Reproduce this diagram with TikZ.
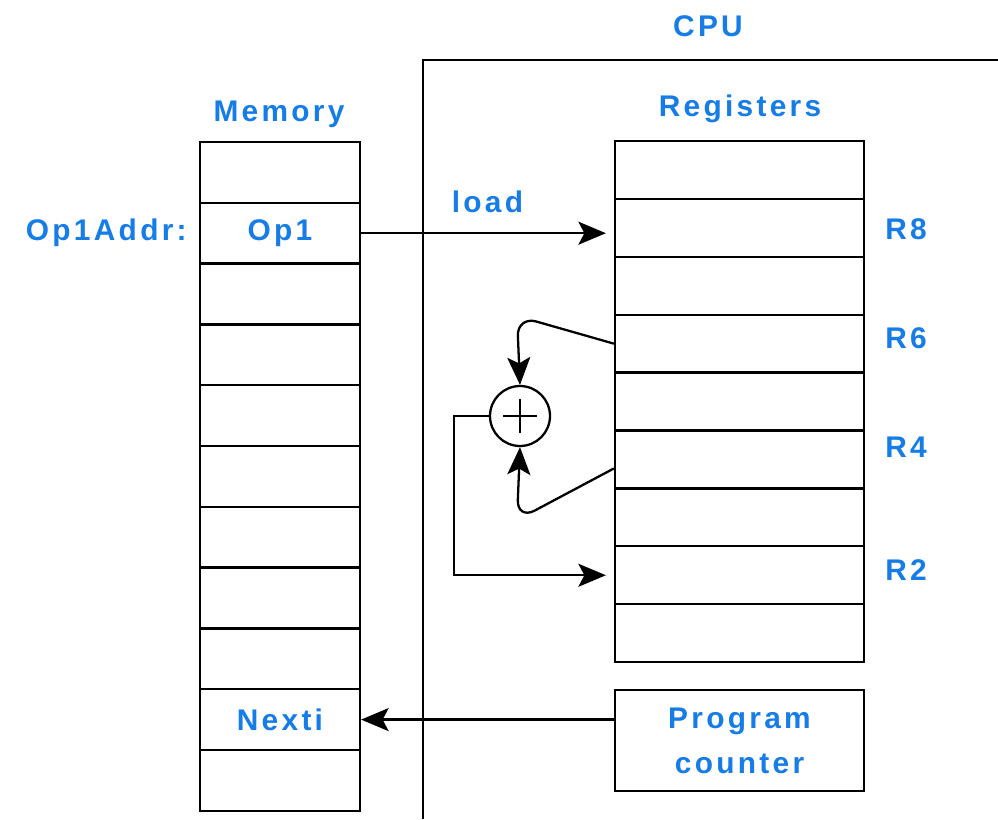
\documentclass[tikz,border=0pt]{standalone}
\usepackage{fontspec}
\newfontfamily\diagfont{Liberation Sans}[LetterSpace=11]
\usetikzlibrary{positioning,arrows.meta}
\definecolor{lblblue}{RGB}{22,124,232}
\tikzset{
  lbl/.style={text=lblblue,font=\diagfont\bfseries\fontsize{17}{25.5}\selectfont},
  memcell/.style={draw,line width=1.3pt,minimum width=3.2cm,minimum height=1.216cm,inner sep=0pt,lbl},
  regcell/.style={draw,line width=1.3pt,minimum width=4.98cm,minimum height=1.158cm,inner sep=0pt},
  arr/.style={line width=1.3pt,-{Stealth[length=5.5mm,width=4.6mm,inset=1.2mm]}}
}

\begin{document}
\begin{tikzpicture}[x=0.02cm,y=-0.02cm]
\useasboundingbox (0,0) rectangle (998,819);
% CPU outline, open to the right and below
\draw[line width=1.3pt] (998,60) -- (423,60) -- (423,819);
\node[lbl] (cpu) at (708,26) {CPU};

% memory column
\foreach \t [count=\i] in {{},Op1,{},{},{},{},{},{},{},Nexti,{}}
  \node[memcell] (m\i) at (280,{142+60.8*(\i-0.5)}) {\t};
\node[lbl] (memory) at (279,114) {Memory};
\node[lbl,left=0.12cm of m2] (op1addr) {Op1Addr:};

% register file
\foreach \i in {1,...,9}
  \node[regcell] (r\i) at (739.5,{141+57.9*(\i-0.5)}) {};
\node[lbl] (registers) at (740,109) {Registers};
\node[lbl] (R8) at (906,229) {R8};
\node[lbl] (R6) at (906,338) {R6};
\node[lbl] (R4) at (906,447) {R4};
\node[lbl] (R2) at (906,570) {R2};

\node[regcell,lbl,minimum height=2.02cm,align=center] (pc) at (739.5,740.5) {Program\\counter};

% adder
\node[draw,circle,line width=1.3pt,minimum size=1.2cm] (sum) at (520,416) {};
\draw[line width=1pt] (sum.center) +(-17,0) -- +(17,0) (sum.center) +(0,-17) -- +(0,17);

% data paths
\draw[arr,shorten >=0.16cm] (m2.east) -- (m2.east -| r2.west) node[lbl,midway,above=0.26cm] (load) {load};
\draw[arr,rounded corners=0.4cm] (r4.west) -- (517,316) -- (sum.north);
\draw[arr,rounded corners=0.4cm] ([yshift=-0.18cm]r6.west) -- (517,520) -- (sum.south);
\draw[arr,shorten >=0.16cm] (sum.west) -- ++(-35,0) |- (r8.west);
\draw[arr] (pc.west |- m10.east) -- (m10.east);
\end{tikzpicture}
\end{document}
